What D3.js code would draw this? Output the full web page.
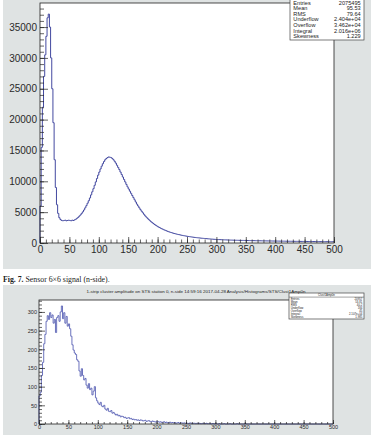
<!DOCTYPE html>
<html><head><meta charset="utf-8">
<script src="https://cdn.jsdelivr.net/npm/d3@7"></script>
<style>html,body{margin:0;padding:0;background:#fff;}svg{display:block;}</style>
</head><body>
<svg id="c" width="371" height="438"></svg>
<script>
// ---------- DATA ----------
const binWidth = 2; // both histograms, bins of 2 units from 0
const xTickValues = [0,50,100,150,200,250,300,350,400,450,500];
const topYTickValues = [0,5000,10000,15000,20000,25000,30000,35000];
const botYTickValues = [0,50,100,150,200,250,300];
const topCounts = [
6000,15500,22000,27000,30500,33500,36500,37100,35000,30000,
25000,19500,13500,9000,6200,4800,4100,3800,3650,3600,
3650,3700,3600,3650,3700,3650,3600,3700,3650,3750,
3850,4000,4150,4350,4550,4800,5050,5350,5700,6050,
6450,6850,7300,7800,8300,8800,9350,9900,10450,11000,
11500,12000,12450,12850,13200,13500,13700,13850,13950,13900,
13850,13700,13500,13250,12950,12600,12250,11900,11500,11100,
10700,10300,9900,9500,9100,8750,8400,8050,7700,7350,
7000,6650,6300,6000,5700,5400,5150,4900,4650,4400,
4200,4000,3800,3620,3450,3300,3150,3000,2870,2750,
2630,2520,2420,2320,2230,2140,2060,1980,1900,1830,
1760,1700,1640,1580,1530,1480,1430,1380,1340,1300,
1260,1220,1180,1145,1110,1080,1050,1020,990,960,
935,910,885,860,840,820,800,780,760,740,
722,705,688,672,656,640,625,610,596,582,
568,555,548,540,530,522,514,505,498,490,
484,478,470,464,458,452,446,440,436,430,
426,422,418,414,410,406,402,398,394,390,
386,382,378,374,370,366,362,358,354,350,
346,342,339,336,333,330,327,324,321,318,
315,312,309,306,303,300,297,294,291,288,
286,283,281,278,276,273,271,268,266,263,
261,259,257,255,253,251,249,247,245,243,
241,239,237,235,233,231,229,227,225,223,
221,220,218,217,215,214,212,211,210,208
];
const botCounts = [
75,85,130,165,215,240,275,290,280,298,
285,292,270,280,245,285,290,275,300,316,
282,298,270,288,262,268,255,235,212,198,
190,186,172,168,142,128,148,130,118,122,
104,96,108,92,96,78,88,100,70,62,
56,52,58,48,46,50,40,37,42,34,
33,36,29,31,27,24,26,22,23,19,
21,20,17,18,15,16,17,14,15,12,
13,11,12,10,11,9,11,10,8,9,
10,7,8,9,7,6,8,7,6,5,
7,6,5,6,4,5,6,4,5,3,
4,5,3,4,3,4,2,3,4,2,
3,3,2,3,2,2,2,1,3,2,
1,2,2,1,2,1,2,1,1,2,
1,1,2,1,1,1,0,1,1,0,
1,0,0,1,0,0,0,1,0,0,
0,0,1,0,0,0,0,0,1,0,
0,0,0,0,0,1,0,0,0,0,
0,0,0,0,0,0,0,0,0,0,
0,0,0,0,0,0,0,0,0,0,
0,0,0,0,0,0,0,0,0,0,
0,0,0,0,0,0,0,0,0,0,
0,0,0,0,0,0,0,0,0,0,
0,0,0,0,0,0,0,0,0,0,
0,0,0,0,0,0,0,0,0,0
];
const topStatsLabels = ["Entries","Mean","RMS","Underflow","Overflow","Integral","Skewness"];
const topStatsValues = ["2075495","95.53","79.64","2.404e+04","3.462e+04","2.016e+06","1.229"];
const botStatsName = "Clust1Amp0n";
const botStatsLabels = ["Entries","Mean","RMS","Underflow","Overflow","Integral","Skewness"];
const botStatsValues = ["20957","53.81","40.2","184","45","2.107e+04","1.985"];
const botTitle = "1-strip cluster amplitude on STS station 0, n-side  14:59:16  2017-04-28  Analysis/Histograms/STS/Clust1Amp0n";
const captionBold = "Fig. 7.";
const captionText = " Sensor 6×6 signal (n-side).";

// ---------- DRAW ----------
const svg = d3.select("#c");
const padGray = "#dfe3e3";

function panel(cfg){
  const g = svg.append("g");
  g.append("rect").attr("x",cfg.bg[0]).attr("y",cfg.bg[1]).attr("width",cfg.bg[2]).attr("height",cfg.bg[3]).attr("fill",padGray);
  const x = d3.scaleLinear().domain([0,500]).range([cfg.fx0,cfg.fx1]);
  const y = d3.scaleLinear().domain([0,cfg.ymax]).range([cfg.fy1,cfg.fy0]);
  g.append("rect").attr("x",cfg.fx0).attr("y",cfg.fy0).attr("width",cfg.fx1-cfg.fx0).attr("height",cfg.fy1-cfg.fy0)
    .attr("fill","#fff");
  const pts = [[x(0), y(0)]];
  cfg.counts.forEach((c,i)=>{
    const x0 = x(i*binWidth), x1 = x((i+1)*binWidth);
    pts.push([x0,y(c)]); pts.push([x1,y(c)]);
  });
  g.append("path").attr("d", d3.line()(pts)).attr("fill","none")
    .attr("stroke",cfg.color).attr("stroke-width",cfg.lw).attr("stroke-linejoin","miter");
  g.append("rect").attr("x",cfg.fx0).attr("y",cfg.fy0).attr("width",cfg.fx1-cfg.fx0).attr("height",cfg.fy1-cfg.fy0)
    .attr("fill","none").attr("stroke","#222").attr("stroke-width",0.8);
  const xMinor = d3.range(0,501,10);
  g.append("g").attr("transform",`translate(0,${cfg.fy1})`)
    .call(d3.axisBottom(x).tickValues(xMinor).tickSize(-cfg.xMinorLen).tickFormat(""))
    .call(a=>a.select(".domain").remove()).selectAll("line").attr("stroke","#222").attr("stroke-width",0.7);
  const yMinor = d3.range(0,cfg.ymax,cfg.yMinorStep);
  g.append("g").attr("transform",`translate(${cfg.fx0},0)`)
    .call(d3.axisLeft(y).tickValues(yMinor).tickSize(-cfg.yMinorLen).tickFormat(""))
    .call(a=>a.select(".domain").remove()).selectAll("line").attr("stroke","#222").attr("stroke-width",0.7);
  const xa = g.append("g").attr("transform",`translate(0,${cfg.fy1})`)
    .call(d3.axisBottom(x).tickValues(xTickValues).tickSize(-cfg.xMajorLen).tickPadding(cfg.xPad).tickFormat(d3.format("d")));
  xa.select(".domain").remove();
  xa.selectAll("line").attr("stroke","#222").attr("stroke-width",0.7);
  xa.selectAll("text").attr("font-family","Liberation Sans, Arial, sans-serif").attr("font-size",cfg.fs).attr("fill","#2a2a2a");
  const ya = g.append("g").attr("transform",`translate(${cfg.fx0},0)`)
    .call(d3.axisLeft(y).tickValues(cfg.yTicks).tickSize(-cfg.yMajorLen).tickPadding(cfg.yPad).tickFormat(d3.format("d")));
  ya.select(".domain").remove();
  ya.selectAll("line").attr("stroke","#222").attr("stroke-width",0.7);
  ya.selectAll("text").attr("font-family","Liberation Sans, Arial, sans-serif").attr("font-size",cfg.fs).attr("fill","#2a2a2a");
  return g;
}

const gTop = panel({bg:[3,0,368,269], fx0:40, fx1:334, fy0:3, fy1:243, ymax:38900,
  counts:topCounts, color:"#4349a0", lw:1, yTicks:topYTickValues, yMinorStep:1000,
  xMajorLen:6, xMinorLen:3.5, yMajorLen:8, yMinorLen:4, xPad:3, yPad:3, fs:10});

const gBot = panel({bg:[3,285,368,150], fx0:39, fx1:333, fy0:300, fy1:424, ymax:332,
  counts:botCounts, color:"#5a62b6", lw:0.9, yTicks:botYTickValues, yMinorStep:10,
  xMajorLen:4, xMinorLen:2, yMajorLen:6, yMinorLen:3, xPad:1.5, yPad:2, fs:5.5});

function statsBox(g, x0, x1, yTop, yBot, name, labels, values, rowY, fs){
  g.append("rect").attr("x",x0).attr("y",yTop).attr("width",x1-x0).attr("height",yBot-yTop)
    .attr("fill","#fff").attr("stroke","#444").attr("stroke-width",0.7);
  if(name){
    g.append("text").attr("x",(x0+x1)/2).attr("y",rowY[0]).attr("dy","0.35em").attr("text-anchor","middle")
      .attr("font-family","Liberation Sans, Arial, sans-serif").attr("font-size",fs).attr("fill","#222").text(name);
    const hdrLine = (rowY[0]+rowY[1])/2;
    g.append("line").attr("x1",x0).attr("x2",x1).attr("y1",hdrLine).attr("y2",hdrLine).attr("stroke","#444").attr("stroke-width",0.5);
  }
  labels.forEach((l,i)=>{
    const yy = rowY[i+1];
    g.append("text").attr("x",x0+fs*0.6).attr("y",yy).attr("dy","0.35em")
      .attr("font-family","Liberation Sans, Arial, sans-serif").attr("font-size",fs).attr("fill","#222").text(l);
    g.append("text").attr("x",x1-fs*0.6).attr("y",yy).attr("dy","0.35em").attr("text-anchor","end")
      .attr("font-family","Liberation Sans, Arial, sans-serif").attr("font-size",fs).attr("fill","#222").text(values[i]);
  });
}
// top box: its header lies above the picture, so only the rows are drawn
statsBox(gTop, 290, 364, -12, 40, null, topStatsLabels, topStatsValues,
  [-4, 2.6, 8.2, 13.8, 19.4, 25, 30.6, 36.2], 5.6);
statsBox(gBot, 289, 364, 293, 319, botStatsName, botStatsLabels, botStatsValues,
  [295.4, 298.8, 301.8, 304.8, 307.8, 310.8, 313.8, 316.8], 2.8);

svg.append("text").attr("x",196).attr("y",292.5).attr("text-anchor","middle")
  .attr("font-family","Liberation Sans, Arial, sans-serif").attr("font-size",4.4).attr("fill","#222")
  .attr("textLength",219).attr("lengthAdjust","spacingAndGlyphs").text(botTitle);

const cap = svg.append("text").attr("x",3).attr("y",281.5)
  .attr("font-family","Liberation Serif, Times New Roman, serif").attr("font-size",7.8).attr("fill","#222");
cap.append("tspan").attr("font-weight","bold").text(captionBold);
cap.append("tspan").text(captionText);
</script>
</body></html>
